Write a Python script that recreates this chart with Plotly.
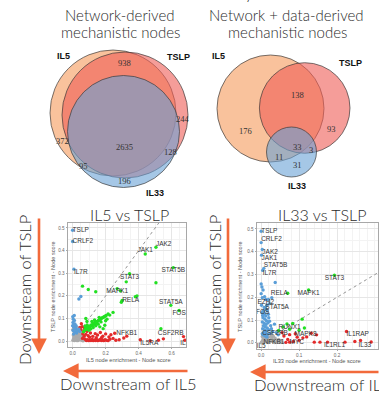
import plotly.graph_objects as go

# ---------------- DATA ----------------
venn_regions = ["IL5", "IL5&TSLP", "TSLP", "IL5&IL33", "IL5&TSLP&IL33", "TSLP&IL33", "IL33"]
venn1_counts = [372, 938, 244, 95, 2635, 128, 196]
venn2_counts = [176, 138, 93, 11, 33, 3, 31]
set_names = ["IL5", "TSLP", "IL33"]

# Scatter 1: IL5 (x) vs TSLP (y)
s1_grey_x = [0.002,0.006,0.011,0.015,0.019,0.024,0.028,0.033,0.037,0.041,0.046,0.05,0.055,0.061,0.066,0.004,0.009,0.013,0.017,0.022,0.026,0.031,0.036,0.04,0.044,0.048,0.001,0.007,0.012,0.02,0.027,0.034,0.039,0.045,0.053,0.058,0.063,0.07,0.029,0.016,0.024,0.043,0.052,0.008,0.035]
s1_grey_y = [0.004,0.012,0.002,0.018,0.007,0.025,0.011,0.003,0.021,0.009,0.031,0.015,0.004,0.022,0.01,0.027,0.035,0.044,0.031,0.05,0.038,0.046,0.033,0.055,0.042,0.052,0.05,0.058,0.022,0.014,0.002,0.017,0.028,0.006,0.026,0.036,0.001,0.005,0.06,0.008,0.033,0.019,0.04,0.019,0.01]

s1_blue_x = [0.0,0.0,0.008,0.038,0.05,0.001,0.004,0.011,0.002,0.014,0.0,0.007,0.019,0.003,0.012,0.024,0.006,0.017,0.029,0.01,0.038,0.043,0.021,0.009]
s1_blue_y = [0.49,0.44,0.318,0.186,0.197,0.108,0.097,0.091,0.082,0.076,0.068,0.061,0.057,0.047,0.041,0.036,0.031,0.052,0.046,0.113,0.053,0.043,0.068,0.072]

s1_green_x = [0.505,0.44,0.61,0.345,0.27,0.30,0.595,0.645,0.325,0.505,0.29,0.38,0.39,0.295,0.535,0.06,0.095,0.14,0.225,0.245,0.2,0.185,0.165,0.195,0.14,0.08,0.087,0.072,0.078,0.084,0.09,0.096,0.101,0.106,0.112,0.118,0.123,0.129,0.134,0.14,0.146,0.151,0.157,0.162,0.168,0.173,0.179,0.185,0.19,0.197,0.203,0.066,0.099,0.11,0.125,0.155,0.172,0.208,0.215,0.088,0.076,0.133,0.161,0.117]
s1_green_y = [0.415,0.385,0.325,0.298,0.232,0.18,0.158,0.135,0.262,0.258,0.222,0.196,0.2,0.172,0.055,0.243,0.228,0.218,0.115,0.127,0.09,0.055,0.063,0.07,0.068,0.1,0.087,0.047,0.056,0.052,0.061,0.058,0.066,0.063,0.071,0.069,0.077,0.074,0.082,0.079,0.086,0.088,0.091,0.095,0.097,0.099,0.103,0.104,0.108,0.11,0.113,0.041,0.048,0.054,0.06,0.075,0.085,0.097,0.12,0.071,0.066,0.093,0.105,0.087]

s1_red_x = [0.68,0.672,0.328,0.41,0.31,0.52,0.55,0.47,0.05,0.058,0.045,0.053,0.062,0.07,0.076,0.083,0.09,0.097,0.104,0.111,0.118,0.125,0.132,0.139,0.146,0.153,0.16,0.167,0.174,0.181,0.188,0.196,0.204,0.215,0.226,0.245,0.262,0.282,0.08,0.094,0.108,0.122,0.137,0.151,0.168,0.183,0.2,0.232,0.255,0.068,0.087,0.103,0.143,0.176,0.22,0.072,0.06]
s1_red_y = [0.004,0.02,0.022,0.006,0.014,0.004,0.01,0.002,0.05,0.064,0.06,0.077,0.032,0.021,0.008,0.003,0.006,0.002,0.005,0.003,0.007,0.002,0.005,0.003,0.006,0.002,0.004,0.007,0.003,0.005,0.002,0.006,0.004,0.002,0.008,0.012,0.004,0.006,0.03,0.024,0.036,0.021,0.033,0.027,0.038,0.022,0.032,0.028,0.035,0.045,0.043,0.017,0.015,0.016,0.018,0.058,0.012]

s1_lab_text = ["TSLP","CRLF2","IL7R","JAK2","JAK1","STAT5B","STAT3","MAPK1","RELA","STAT5A","FOS","NFKB1","CSF2RB","IL5","IL5RA"]
s1_lab_x = [0.0,0.0,0.008,0.505,0.44,0.61,0.345,0.27,0.30,0.595,0.645,0.328,0.672,0.68,0.41]
s1_lab_y = [0.49,0.44,0.318,0.415,0.385,0.325,0.298,0.232,0.18,0.158,0.135,0.022,0.02,0.004,0.006]

# Scatter 2: IL33 (x) vs TSLP (y)
s2_grey_x = [0.001,0.004,0.007,0.01,0.013,0.016,0.019,0.022,0.025,0.028,0.031,0.034,0.037,0.04,0.043,0.046,0.049,0.003,0.009,0.015,0.021,0.027,0.033,0.012,0.018,0.024,0.006,0.036,0.052,0.055,0.03,0.0,0.006]
s2_grey_y = [0.003,0.011,0.002,0.017,0.006,0.024,0.009,0.002,0.014,0.021,0.005,0.012,0.019,0.003,0.009,0.015,0.004,0.028,0.032,0.03,0.026,0.031,0.027,0.013,0.001,0.007,0.019,0.001,0.01,0.002,0.034,0.0,0.004]

s2_blue_x = [0.0,0.0,0.003,0.001,0.007,0.004,0.012,0.011,0.004,0.003,0.037,0.0,0.002,0.005,0.0,0.009,0.019,0.028,0.022,0.015,0.003,0.006,0.002,0.009,0.012,0.005,0.01,0.014,0.003,0.008,0.013,0.006,0.011,0.016,0.004,0.009,0.014,0.007,0.012,0.017,0.005,0.01,0.02,0.018,0.02,0.016,0.025,0.035,0.04,0.03,0.045,0.013,0.008,0.019,0.001,0.022,0.027,0.015,0.024]
s2_blue_y = [0.49,0.44,0.41,0.385,0.327,0.318,0.19,0.155,0.12,0.04,0.265,0.258,0.245,0.232,0.216,0.203,0.19,0.198,0.172,0.165,0.198,0.14,0.132,0.128,0.118,0.11,0.104,0.097,0.092,0.086,0.081,0.075,0.07,0.065,0.062,0.057,0.052,0.047,0.043,0.038,0.035,0.03,0.058,0.088,0.11,0.14,0.075,0.082,0.045,0.05,0.035,0.148,0.155,0.125,0.165,0.095,0.062,0.025,0.042]

s2_green_x = [0.193,0.125,0.07,0.046,0.068,0.083,0.108,0.114,0.058,0.1,0.075]
s2_green_y = [0.297,0.232,0.218,0.054,0.083,0.085,0.104,0.065,0.07,0.055,0.06]

s2_red_x = [0.146,0.225,0.221,0.29,0.075,0.262,0.247,0.06,0.075,0.09,0.12,0.14,0.155,0.175,0.065,0.085,0.1,0.11,0.132,0.095,0.055,0.07]
s2_red_y = [0.035,0.05,0.003,0.004,0.003,0.01,0.006,0.03,0.036,0.04,0.026,0.003,0.003,0.003,0.002,0.006,0.011,0.022,0.042,0.025,0.045,0.015]

s2_lab_text = ["TSLP","CRLF2","JAK2","JAK1","STAT5B","IL7R","STAT3","RELA","MAPK1","EZH2","STAT5A","FOS","RUNX1","MAPK8","CSF2RB","NFKB1","MYC","IL5","IL1RAP","IL1RL1","IL33"]
s2_lab_x = [0.0,0.0,0.003,0.001,0.007,0.004,0.193,0.07,0.125,0.012,0.011,0.004,0.046,0.146,0.003,0.006,0.075,0.0,0.225,0.221,0.29]
s2_lab_y = [0.49,0.44,0.41,0.385,0.327,0.318,0.297,0.218,0.232,0.19,0.155,0.12,0.054,0.035,0.04,0.004,0.003,0.0,0.05,0.003,0.004]

# ---------------- STYLE / LAYOUT ----------------
W, H = 379, 393
BIG = "Lato"
C_GREY, C_BLUE, C_GREEN, C_RED = "#ABABAB", "#5A9ED8", "#22E022", "#E32A2A"
ARROW = "#F26A3B"

s1_pos = ["middle right","middle right","bottom right","top right","top center","bottom center","bottom center",
          "bottom center","middle right","top center","bottom center","top center","top left","bottom center","bottom right"]
s2_pos = ["middle right","top right","bottom right","bottom right","top right","bottom right","bottom center",
          "middle left","bottom center","bottom center","middle right","top center","top right","middle left",
          "middle right","middle right","middle right","bottom center","bottom right","bottom left","bottom left"]

# circle geometry in pixels: (cx, cy, r)
venn1_geom = {"IL5": (113, 113, 63), "TSLP": (125, 115, 63), "IL33": (123.5, 131.5, 56)}
venn2_geom = {"IL5": (270.5, 108.5, 53.5), "TSLP": (304.7, 108, 45.3), "IL33": (291.5, 152, 25)}
venn_fill = {"IL5": "rgba(245,153,90,0.6)", "TSLP": "rgba(238,92,85,0.6)", "IL33": "rgba(105,162,213,0.6)"}
venn1_num_pos = [(62,141),(124,63),(183,119),(83,166),(124,147),(170,152),(124,181)]
venn2_num_pos = [(245,131),(297,95),(331,129),(279,157),(297,147),(311,150),(297,165)]
venn1_lab_pos = [(63,56),(178,57),(155,193)]
venn2_lab_pos = [(218,56),(350,63),(297,186)]

fig = go.Figure()

def add_scatter(ax, groups, lab_x, lab_y, lab_t, pos):
    xa = "x" if ax == 1 else "x2"
    ya = "y" if ax == 1 else "y2"
    fig.add_trace(go.Scatter(x=[0, 0.7], y=[0, 0.7], mode="lines", xaxis=xa, yaxis=ya,
                             line=dict(color="#8a8a8a", width=0.9, dash="dot"), hoverinfo="skip", showlegend=False))
    for gx, gy, col in groups:
        fig.add_trace(go.Scatter(x=gx, y=gy, mode="markers", xaxis=xa, yaxis=ya,
                                 marker=dict(color=col, size=3.4, line=dict(width=0)),
                                 hoverinfo="skip", showlegend=False))
    fig.add_trace(go.Scatter(x=lab_x, y=lab_y, text=lab_t, mode="text", textposition=pos, xaxis=xa, yaxis=ya,
                             textfont=dict(family="Liberation Sans", size=6.5, color="#333333"),
                             hoverinfo="skip", showlegend=False, cliponaxis=True))

add_scatter(1, [(s1_grey_x, s1_grey_y, C_GREY), (s1_red_x, s1_red_y, C_RED),
                (s1_blue_x, s1_blue_y, C_BLUE), (s1_green_x, s1_green_y, C_GREEN)],
            s1_lab_x, s1_lab_y, s1_lab_text, s1_pos)
add_scatter(2, [(s2_grey_x, s2_grey_y, C_GREY), (s2_red_x, s2_red_y, C_RED),
                (s2_blue_x, s2_blue_y, C_BLUE), (s2_green_x, s2_green_y, C_GREEN)],
            s2_lab_x, s2_lab_y, s2_lab_text, s2_pos)

# invisible pixel-space overlay
fig.add_trace(go.Scatter(x=[0], y=[0], xaxis="x3", yaxis="y3", mode="markers",
                         marker=dict(opacity=0), hoverinfo="skip", showlegend=False))

axis_common = dict(showgrid=True, gridcolor="#e6e6e6", gridwidth=0.6, zeroline=False,
                   showline=True, mirror=True, linecolor="#a8a8a8", linewidth=0.8,
                   ticks="outside", ticklen=1.5, tickcolor="#a8a8a8", tickwidth=0.6,
                   tickfont=dict(family="Liberation Sans", size=4.6, color="#666666"),
                   minor=dict(showgrid=True, gridcolor="#f3f3f3", gridwidth=0.4),
                   fixedrange=True)

def px_x(p): return p / W
def px_y(p): return 1 - p / H

shapes = []
annotations = []

for geom in (venn1_geom, venn2_geom):
    for name in set_names:
        cx, cy, r = geom[name]
        shapes.append(dict(type="circle", xref="x3", yref="y3", x0=cx - r, x1=cx + r, y0=cy - r, y1=cy + r,
                           fillcolor=venn_fill[name], line=dict(color="rgba(55,55,55,0.85)", width=0.8)))

for counts, posl in ((venn1_counts, venn1_num_pos), (venn2_counts, venn2_num_pos)):
    for c, (x, y) in zip(counts, posl):
        annotations.append(dict(x=x, y=y, xref="x3", yref="y3", text=str(c), showarrow=False,
                                font=dict(family="Liberation Serif", size=8.5, color="#333333")))
for posl in (venn1_lab_pos, venn2_lab_pos):
    for n, (x, y) in zip(set_names, posl):
        annotations.append(dict(x=x, y=y, xref="x3", yref="y3", text=n, showarrow=False,
                                font=dict(family="Liberation Sans", size=9, color="#111111", weight="bold")))

def txt(x, y, t, size, angle=0, xanchor="center", yanchor="middle"):
    annotations.append(dict(x=x, y=y, xref="x3", yref="y3", text=t, showarrow=False, textangle=angle,
                            xanchor=xanchor, yanchor=yanchor,
                            font=dict(family=BIG, size=size, color="#2b2b2b", weight=300)))

txt(249, 4, "y", 16, 0, "center", "bottom")   # clipped fragment of a cropped heading
txt(120, 15, "Network-derived", 15)
txt(120, 32, "mechanistic nodes", 15)
txt(286, 15, "Network + data-derived", 15)
txt(287, 32, "mechanistic nodes", 15)
txt(129, 214, "IL5 vs TSLP", 16)
txt(322, 214, "IL33 vs TSLP", 16)
txt(25, 290, "Downstream of TSLP", 16.5, -90)
txt(215, 290, "Downstream of TSLP", 16.5, -90)
txt(128, 384, "Downstream of IL5", 16.5)
txt(252, 385, "Downstream of IL33", 16.5, 0, "left")

def small(x, y, t, angle=0):
    annotations.append(dict(x=x, y=y, xref="x3", yref="y3", text=t, showarrow=False, textangle=angle,
                            font=dict(family="Liberation Sans", size=5.6, color="#555555")))
small(128, 359.5, "IL5 node enrichment - Node score")
small(53, 287, "TSLP node enrichment - Node score", -90)
small(317, 361, "IL33 node enrichment - Node score")
small(240, 287, "TSLP node enrichment - Node score", -90)

for (hx, hy, tx, ty) in ((39, 354, 39, 217), (228, 354, 228, 217), (63, 371, 189, 371), (250, 372, 380, 372)):
    annotations.append(dict(x=hx, y=hy, ax=tx, ay=ty, xref="x3", yref="y3", axref="x3", ayref="y3",
                            text="", showarrow=True, arrowhead=2, arrowsize=1.2, arrowwidth=2.6,
                            arrowcolor=ARROW, standoff=0, startstandoff=0))

fig.update_layout(
    width=W, height=H, margin=dict(l=0, r=0, t=0, b=0),
    paper_bgcolor="white", plot_bgcolor="rgba(0,0,0,0)", showlegend=False,
    xaxis=dict(domain=[px_x(68), px_x(186)], range=[-0.028, 0.687], anchor="y",
               tickvals=[0, 0.2, 0.4, 0.6], ticktext=["0.0", "0.2", "0.4", "0.6"], **axis_common),
    yaxis=dict(domain=[px_y(347), px_y(223)], range=[-0.026, 0.522], anchor="x",
               tickvals=[0, 0.1, 0.2, 0.3, 0.4, 0.5], ticktext=["0.0", "0.1", "0.2", "0.3", "0.4", "0.5"], **axis_common),
    xaxis2=dict(domain=[px_x(257), px_x(378)], range=[-0.011, 0.308], anchor="y2",
                tickvals=[0, 0.1, 0.2], ticktext=["0.0", "0.1", "0.2"], **axis_common),
    yaxis2=dict(domain=[px_y(349), px_y(223)], range=[-0.027, 0.526], anchor="x2",
                tickvals=[0, 0.1, 0.2, 0.3, 0.4, 0.5], ticktext=["0.0", "0.1", "0.2", "0.3", "0.4", "0.5"], **axis_common),
    xaxis3=dict(domain=[0, 1], range=[0, W], visible=False, anchor="y3", fixedrange=True, showgrid=False),
    yaxis3=dict(domain=[0, 1], range=[H, 0], visible=False, anchor="x3", fixedrange=True, showgrid=False),
    shapes=shapes, annotations=annotations,
)

fig.write_html("out.html")
